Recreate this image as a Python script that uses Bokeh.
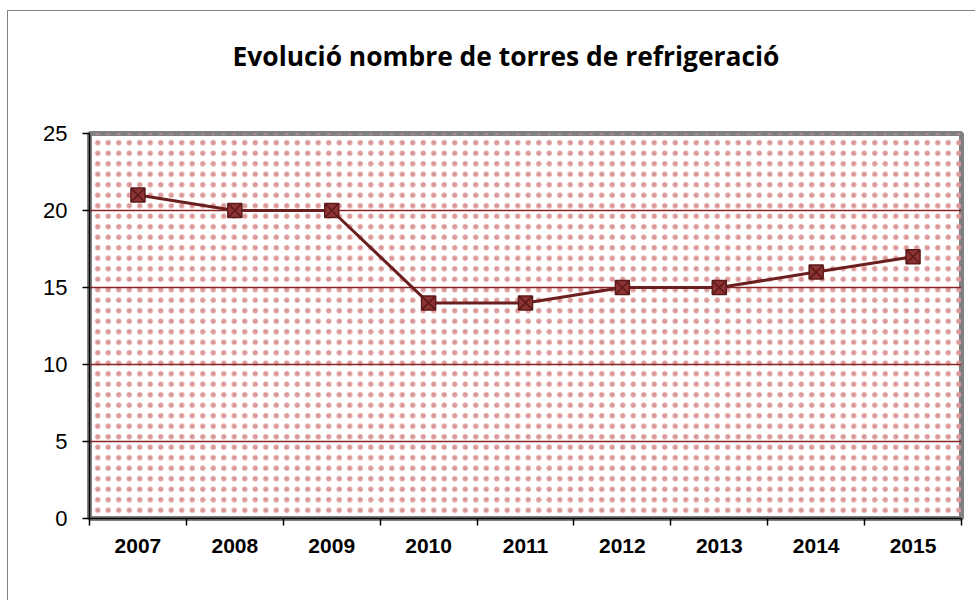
from bokeh.plotting import figure
from bokeh.models import Range1d, FixedTicker, BoxAnnotation, Span, Title
from bokeh.embed import file_html
from bokeh.resources import INLINE

years = ["2007", "2008", "2009", "2010", "2011", "2012", "2013", "2014", "2015"]
towers = [21, 20, 20, 14, 14, 15, 15, 16, 17]
y_ticks = [0, 5, 10, 15, 20, 25]
grid_levels = [5, 10, 15, 20]
title_text = "Evolució nombre de torres de refrigeració"

xs = [i + 0.5 for i in range(len(years))]
bounds = list(range(len(years) + 1))

p = figure(width=968, height=590, output_backend="svg", toolbar_location=None,
           x_range=Range1d(0, len(years)), y_range=Range1d(0, 25),
           min_border_left=81, min_border_right=15, min_border_top=122, min_border_bottom=83)
p.styles = {"margin-left": "7px", "margin-top": "10px",
            "border-left": "1px solid #808080", "border-top": "1px solid #808080"}
p.background_fill_color = "white"
p.border_fill_color = "white"
p.outline_line_color = "#808080"
p.outline_line_width = 5
p.xgrid.visible = False
p.ygrid.visible = False

p.title.text = title_text
p.title.align = "left"
p.title.offset = 143
p.title.standoff = 0
p.title.text_font = "Open Sans"
p.title.text_font_style = "bold"
p.title.text_font_size = "26.4px"
p.title.text_color = "black"

# empty spacer between title and plot area
p.add_layout(Title(text=" ", text_font_size="1px", standoff=57), "above")

# dotted background pattern
p.add_layout(BoxAnnotation(fill_alpha=0, line_alpha=0, hatch_pattern="dot",
                           hatch_color="#dc9898", hatch_scale=10.5, hatch_weight=0.38,
                           level="underlay"))
for g in grid_levels:
    p.add_layout(Span(location=g, dimension="width", line_color="#8B2424",
                      line_width=1.5, level="underlay"))

p.line(xs, towers, line_color="#6B1E1E", line_width=3)
p.scatter(xs, towers, marker="square_x", size=14, fill_color="#8E3333",
          line_color="#5C1A1A", line_width=1.5)

xa = p.xaxis[0]
xa.ticker = FixedTicker(ticks=xs, minor_ticks=bounds)
xa.major_label_overrides = {x: y for x, y in zip(xs, years)}
xa.major_tick_line_color = None
xa.minor_tick_line_color = "black"
xa.minor_tick_out = 7
xa.minor_tick_in = 0
xa.minor_tick_line_width = 1.5
xa.axis_line_color = "black"
xa.axis_line_width = 1.5
xa.major_label_text_font = "Liberation Sans"
xa.major_label_text_font_style = "bold"
xa.major_label_text_font_size = "21px"
xa.major_label_text_color = "black"
xa.major_label_standoff = 13

ya = p.yaxis[0]
ya.ticker = FixedTicker(ticks=y_ticks)
ya.minor_tick_line_color = None
ya.major_tick_line_color = "black"
ya.major_tick_out = 7
ya.major_tick_in = 0
ya.major_tick_line_width = 1.5
ya.axis_line_color = "black"
ya.axis_line_width = 1.5
ya.major_label_text_font = "Liberation Sans"
ya.major_label_text_font_size = "22px"
ya.major_label_text_color = "black"
ya.major_label_standoff = 15

open("out.html", "w").write(file_html(p, INLINE))
